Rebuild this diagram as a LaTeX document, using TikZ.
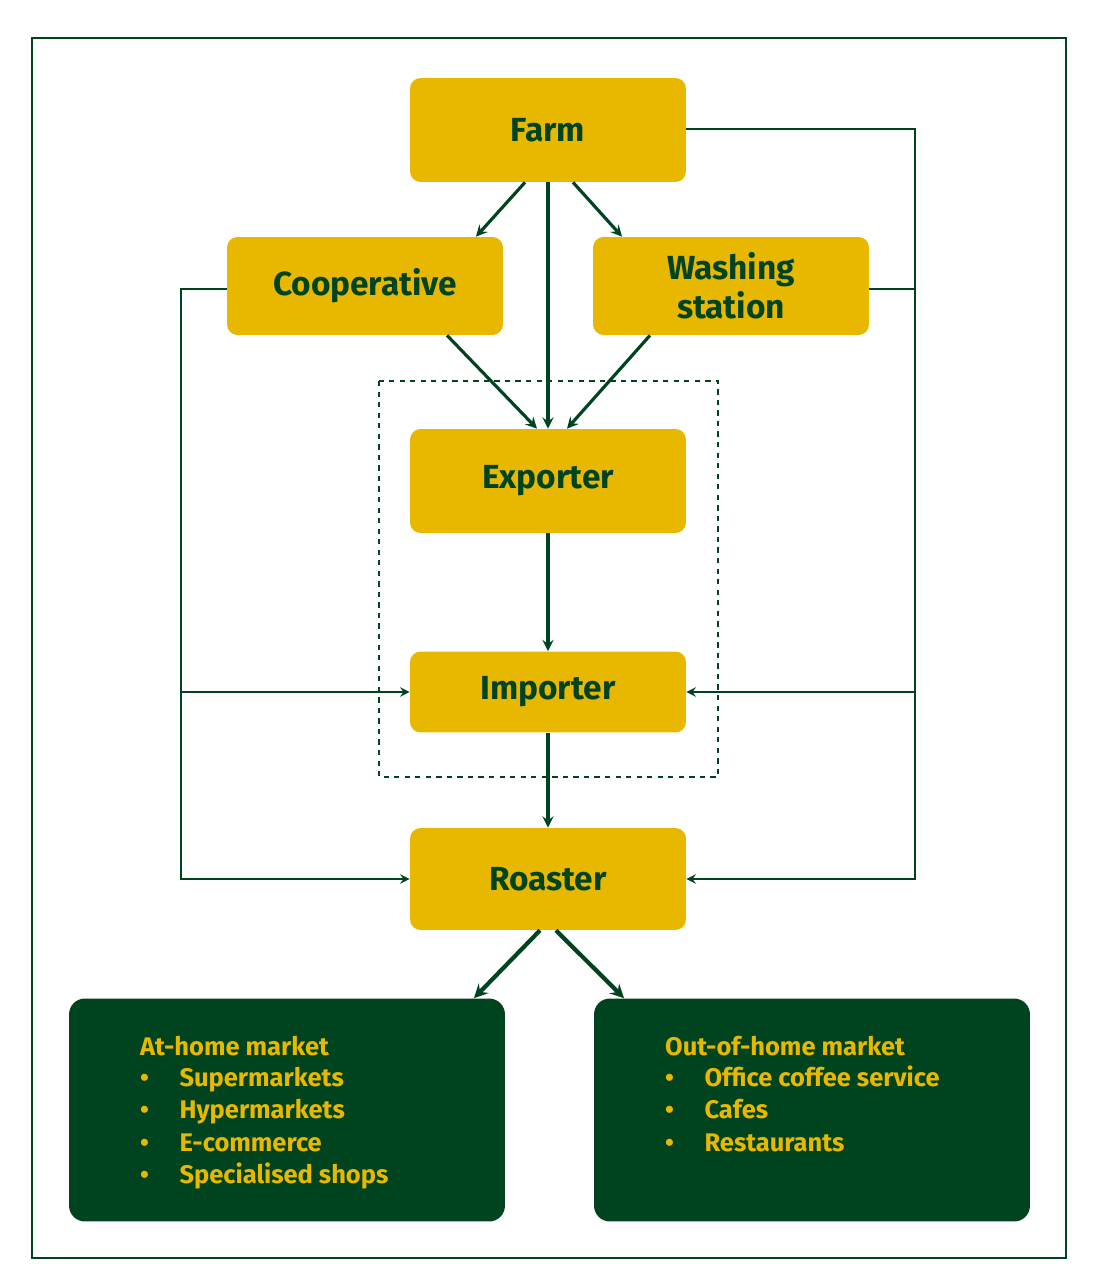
\documentclass[tikz,border=0pt]{standalone}
\usepackage{fontspec}
\setmainfont{Fira Sans}
\usetikzlibrary{positioning}
\definecolor{cgreen}{HTML}{00441F}
\definecolor{cyellow}{HTML}{E8B800}
\tikzset{
  stage/.style={fill=cyellow, rounded corners=6pt, minimum width=5.52cm, text=cgreen, font=\fontsize{19}{22}\selectfont\bfseries, align=center},
  market/.style={fill=cgreen, rounded corners=9pt, minimum width=8.72cm, minimum height=4.46cm},
  flow/.style={->, >=stealth, draw=cgreen, line width=1.8pt},
  thin flow/.style={->, >=stealth, draw=cgreen, line width=1.4pt},
  item/.style={text=cyellow, font=\fontsize{14.5}{18.5}\selectfont\bfseries, anchor=north west, align=left}
}
\begin{document}
\begin{tikzpicture}[x=0.02cm, y=-0.02cm]
 \useasboundingbox (0,0) rectangle (1098,1287);
 \draw[cgreen, line width=1.6pt] (32,38) rectangle (1066,1258);
 \draw[cgreen, dashed, line width=0.7pt] (379,381) rectangle (718,777);
 % stages
 \node[stage, minimum height=2.08cm] (farm) at (548,130) {Farm};
 \node[stage, minimum height=1.96cm] (coop) at (365,286) {Cooperative};
 \node[stage, minimum height=1.96cm] (wash) at (731,286) {Washing\\station};
 \node[stage, minimum height=2.08cm] (exp) at (548,481) {Exporter};
 \node[stage, minimum height=1.62cm] (imp) at (548,692) {Importer};
 \node[stage, minimum height=2.04cm] (roast) at (548,879) {Roaster};
 % markets
 \node[market] (home) at (287,1110) {};
 \node[market] (out) at (812,1110) {};
 \node[item] (homet) at (134,1030) {At-home market\\[-1pt]
   \textbullet\hspace{1.2em}Supermarkets\\ \textbullet\hspace{1.2em}Hypermarkets\\
   \textbullet\hspace{1.2em}E-commerce\\ \textbullet\hspace{1.2em}Specialised shops};
 \node[item] (outt) at (659,1030) {Out-of-home market\\[-1pt]
   \textbullet\hspace{1.2em}Office coffee service\\ \textbullet\hspace{1.2em}Cafes\\
   \textbullet\hspace{1.2em}Restaurants};
 % side lines
 \coordinate (rtop) at (915,129);
 \coordinate (rmid) at (915,692);
 \coordinate (rbot) at (915,879);
 \coordinate (ltop) at (181,289);
 \coordinate (lmid) at (181,692);
 \coordinate (lbot) at (181,879);
 % arrows
 \draw[flow] ([xshift=-0.46cm]farm.south) -- ([xshift=2.22cm]coop.north);
 \draw[flow] ([xshift=0.5cm]farm.south) -- ([xshift=-2.18cm]wash.north);
 \draw[flow] (farm.south) -- (exp.north);
 \draw[flow] ([xshift=1.64cm]coop.south) -- ([xshift=-0.22cm]exp.north);
 \draw[flow] ([xshift=-1.62cm]wash.south) -- ([xshift=0.38cm]exp.north);
 \draw[flow] (exp.south) -- (imp.north);
 \draw[flow] (imp.south) -- (roast.north);
 \draw[flow, line width=2.4pt] ([xshift=-0.16cm]roast.south) -- ([xshift=3.74cm]home.north);
 \draw[flow, line width=2.4pt] ([xshift=0.16cm]roast.south) -- ([xshift=-3.76cm]out.north);
 \draw[thin flow] (farm.east |- rtop) -- (rtop) -- (rbot) -- (roast.east);
 \draw[cgreen, line width=1.4pt] (wash.east |- 0,289) -- (915,289);
 \draw[thin flow] (rmid) -- (imp.east);
 \draw[thin flow] (coop.west |- ltop) -- (ltop) -- (lbot) -- (roast.west);
 \draw[thin flow] (lmid) -- (imp.west);
\end{tikzpicture}
\end{document}
